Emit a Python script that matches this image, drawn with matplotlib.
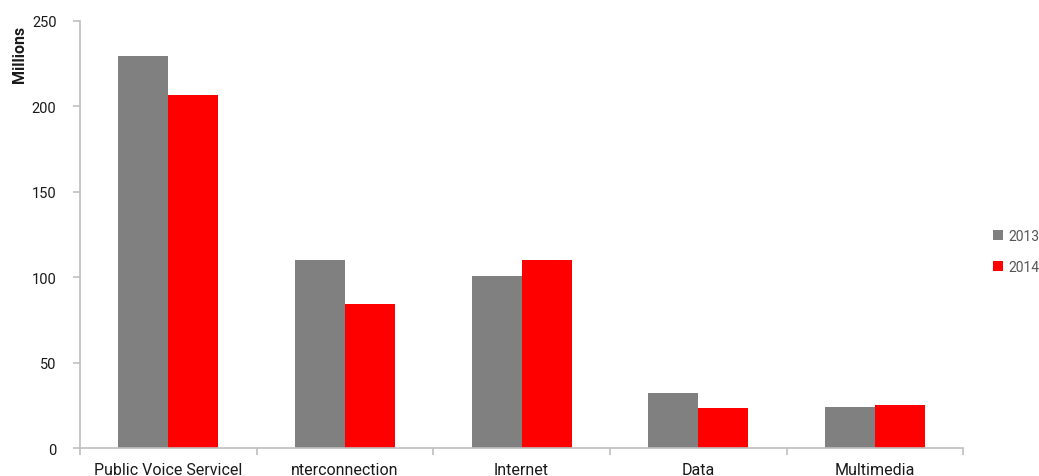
import matplotlib
matplotlib.use("Agg")
import matplotlib.pyplot as plt
import numpy as np

# Dados (milhões)
categorias = ["Public Voice Servicel", "nterconnection", "Internet", "Data", "Multimedia"]
anos = ["2013", "2014"]
valores_2013 = [229.5, 110.0, 100.7, 32.2, 24.0]
valores_2014 = [206.7, 84.3, 110.0, 23.4, 25.2]

cor_2013 = "#808080"
cor_2014 = "#ff0000"
cor_eixo = "#bfbfbf"

plt.rcParams["font.family"] = ["Roboto", "DejaVu Sans"]

fig = plt.figure(figsize=(10.39, 4.77), dpi=100)
ax = fig.add_axes([0.077, 0.0587, 0.85, 0.8955])

x = np.arange(len(categorias))
largura = 0.283
ax.bar(x - largura / 2, valores_2013, largura, color=cor_2013, label=anos[0])
ax.bar(x + largura / 2, valores_2014, largura, color=cor_2014, label=anos[1])

ax.set_xlim(-0.5, len(categorias) - 0.5)
ax.set_ylim(0, 250)
ax.set_yticks(range(0, 251, 50))
ax.set_xticks(x)
ax.set_xticklabels(categorias, fontsize=11.5, color="#1a1a1a")
ax.set_xticks(np.arange(-0.5, len(categorias), 1), minor=True)
ax.tick_params(axis="x", which="major", length=0, pad=10)
ax.tick_params(axis="x", which="minor", length=5, color=cor_eixo, width=1.2)
ax.tick_params(axis="y", length=5, color=cor_eixo, width=1.2, labelsize=10.5,
               labelcolor="#1a1a1a", pad=12)

for lado in ["top", "right"]:
    ax.spines[lado].set_visible(False)
for lado in ["left", "bottom"]:
    ax.spines[lado].set_color(cor_eixo)
    ax.spines[lado].set_linewidth(1.2)

fig.text(0.012, 0.945, "Millions", rotation=90, ha="left", va="top",
         fontsize=11.5, fontweight="bold", color="#1a1a1a")

ax.legend(loc="center left", bbox_to_anchor=(1.02, 0.46), frameon=False,
          fontsize=10, handlelength=0.7, handleheight=0.7, handletextpad=0.4,
          labelspacing=1.2, labelcolor="#555555")

fig.savefig("out.png", dpi=100)
